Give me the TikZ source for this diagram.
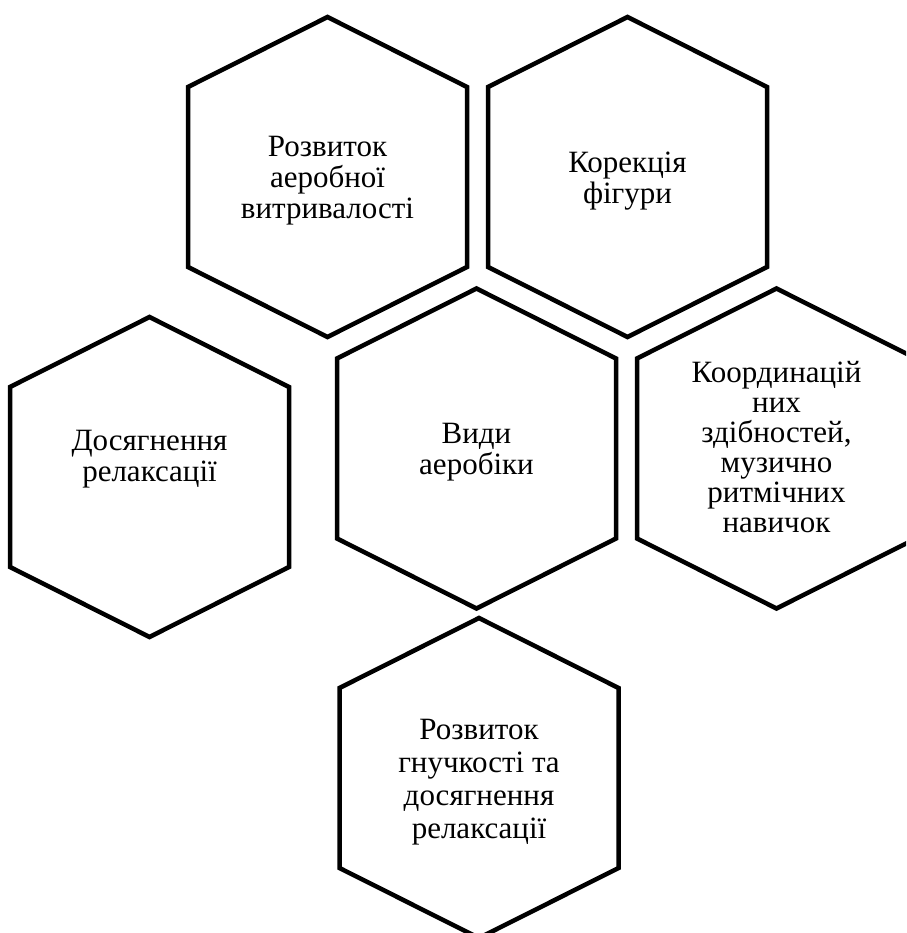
\documentclass[tikz,border=0pt]{standalone}
\usepackage{fontspec}
\setmainfont{Liberation Serif}
\usetikzlibrary{positioning}

\begin{document}
\begin{tikzpicture}[
      % GLOBAL CFG
      x=1pt, y=-1pt,
      font=\fontsize{31}{31}\selectfont,
      % Styles
      hexa/.style={% For the hexagon outlines
        draw,
        line width=4.5pt,
        line join=miter
      },
      hextext/.style={% For the text inside
        align=center,
        inner sep=0pt
      }
      ]

      \useasboundingbox (0,0) rectangle (906,933);
      \clip (0,0) rectangle (906,933);

      % Draw the hexagons:
      \foreach \name/\cx/\cy in {aerob/327.5/177, korek/627.5/177,
                                 relax/149.5/477, vydy/476.5/448.5,
                                 koord/776.5/448.5, hnuch/479/778}{
        \coordinate (\name) at (\cx,\cy);
        \draw [hexa] ([yshift=160pt]\name) -- ++(139.5,70) -- ++(0,180)
          -- ++(-139.5,70) -- ++(-139.5,-70) -- ++(0,-180) -- cycle;
      }

      % Texts:
      \node [hextext] (taerob) at (327.5,181) {Розвиток\\аеробної\\витривалості};
      \node [hextext] (tkorek) at (627.5,181) {Корекція\\фігури};
      \node [hextext] (trelax) at (149.5,459) {Досягнення\\релаксації};
      \node [hextext] (tvydy) at (476.5,452) {Види\\аеробіки};
      \node [hextext, font=\fontsize{31}{30}\selectfont] (tkoord) at (776.5,447)
        {Координацій\\них\\здібностей,\\музично\\ритмічних\\навичок};
      \node [hextext, font=\fontsize{31}{33}\selectfont] (thnuch) at (479,782)
        {Розвиток\\гнучкості та\\досягнення\\релаксації};

    \end{tikzpicture}
\end{document}
